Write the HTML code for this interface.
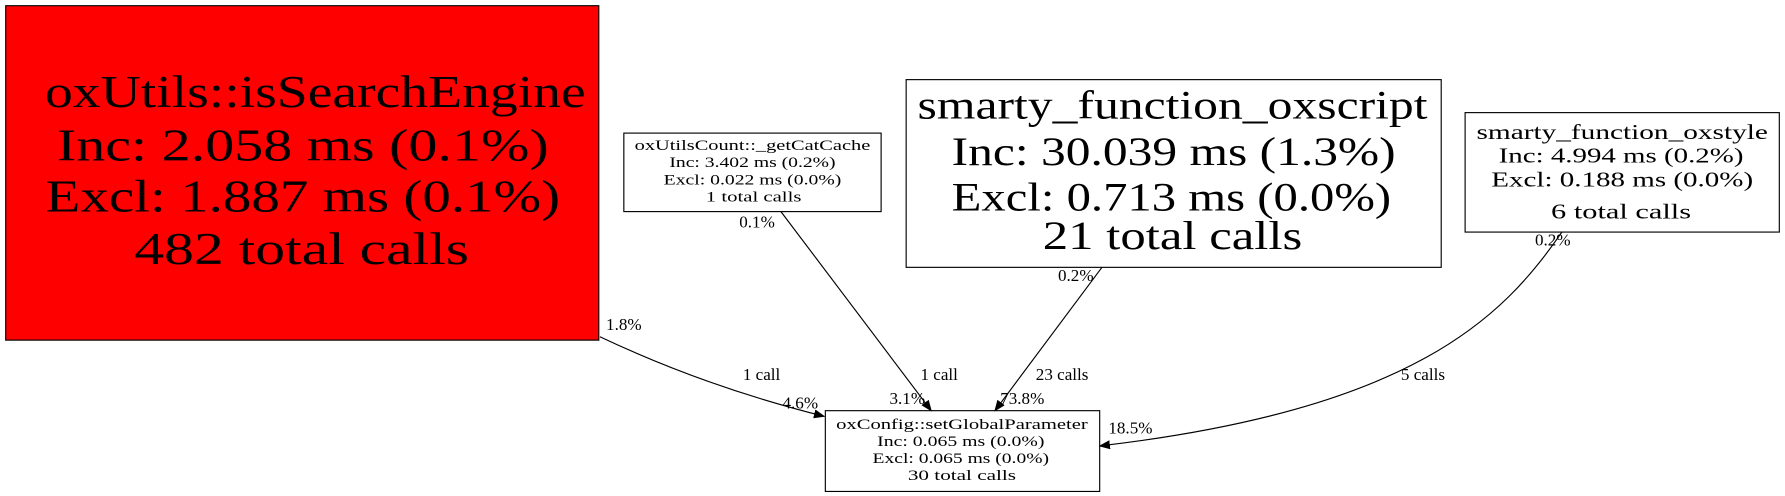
<!DOCTYPE html>
<html><head><meta charset="utf-8"><style>
html,body{margin:0;padding:0;background:#fff;width:1785px;height:496px;overflow:hidden}
svg{display:block}
text{font-family:"Liberation Serif",serif;fill:#000;text-anchor:middle}
</style></head><body>
<svg width="1785" height="496" viewBox="0 0 1568 436" preserveAspectRatio="none" xmlns="http://www.w3.org/2000/svg">
<defs><marker id="a" markerWidth="10" markerHeight="8" refX="9" refY="4" orient="auto" markerUnits="userSpaceOnUse"><path d="M0,0 L10,4 L0,8z" fill="#000"/></marker></defs>
<rect x="5" y="5" width="521" height="294" fill="#ff0000" stroke="#000"/>
<g font-size="40"><text x="277" y="94" textLength="475" lengthAdjust="spacingAndGlyphs">oxUtils::isSearchEngine</text><text x="266" y="141" textLength="432" lengthAdjust="spacingAndGlyphs">Inc: 2.058 ms (0.1%)</text><text x="266" y="186" textLength="452" lengthAdjust="spacingAndGlyphs">Excl: 1.887 ms (0.1%)</text><text x="265" y="232" textLength="294" lengthAdjust="spacingAndGlyphs">482 total calls</text></g>
<rect x="548" y="117" width="226" height="69" fill="#fff" stroke="#000"/>
<g font-size="13"><text x="661" y="132" textLength="207" lengthAdjust="spacingAndGlyphs">oxUtilsCount::_getCatCache</text><text x="661" y="147" textLength="146" lengthAdjust="spacingAndGlyphs">Inc: 3.402 ms (0.2%)</text><text x="661" y="162" textLength="156" lengthAdjust="spacingAndGlyphs">Excl: 0.022 ms (0.0%)</text><text x="662" y="177" textLength="84" lengthAdjust="spacingAndGlyphs">1 total calls</text></g>
<rect x="796" y="70" width="470" height="165" fill="#fff" stroke="#000"/>
<g font-size="35"><text x="1030" y="104" textLength="448" lengthAdjust="spacingAndGlyphs">smarty_function_oxscript</text><text x="1031" y="145" textLength="390" lengthAdjust="spacingAndGlyphs">Inc: 30.039 ms (1.3%)</text><text x="1029" y="185" textLength="386" lengthAdjust="spacingAndGlyphs">Excl: 0.713 ms (0.0%)</text><text x="1030" y="219" textLength="228" lengthAdjust="spacingAndGlyphs">21 total calls</text></g>
<rect x="1287" y="99" width="276" height="105" fill="#fff" stroke="#000"/>
<g font-size="19"><text x="1425" y="122" textLength="256" lengthAdjust="spacingAndGlyphs">smarty_function_oxstyle</text><text x="1424" y="143" textLength="215" lengthAdjust="spacingAndGlyphs">Inc: 4.994 ms (0.2%)</text><text x="1425" y="164" textLength="230" lengthAdjust="spacingAndGlyphs">Excl: 0.188 ms (0.0%)</text><text x="1424" y="192" textLength="123" lengthAdjust="spacingAndGlyphs">6 total calls</text></g>
<rect x="725" y="361" width="241" height="71" fill="#fff" stroke="#000"/>
<g font-size="13"><text x="845" y="377" textLength="221" lengthAdjust="spacingAndGlyphs">oxConfig::setGlobalParameter</text><text x="844" y="392" textLength="147" lengthAdjust="spacingAndGlyphs">Inc: 0.065 ms (0.0%)</text><text x="844" y="407" textLength="155" lengthAdjust="spacingAndGlyphs">Excl: 0.065 ms (0.0%)</text><text x="845" y="422" textLength="95" lengthAdjust="spacingAndGlyphs">30 total calls</text></g>
<g fill="none" stroke="#000" stroke-width="1">
<path d="M527,296 Q620,340 724,366" marker-end="url(#a)"/>
<path d="M686,186 L818,361" marker-end="url(#a)"/>
<path d="M968,235 L874,361" marker-end="url(#a)"/>
<path d="M1372,204 C1320,280 1240,360 966,392" marker-end="url(#a)"/>
</g>
<g font-size="15">
<text x="548" y="290">1.8%</text><text x="669" y="334">1 call</text><text x="703" y="359">4.6%</text>
<text x="665" y="200">0.1%</text><text x="825" y="334">1 call</text><text x="797" y="355">3.1%</text>
<text x="945" y="247">0.2%</text><text x="933" y="334">23 calls</text><text x="898" y="355">73.8%</text>
<text x="1364" y="216">0.2%</text><text x="1250" y="334">5 calls</text><text x="993" y="381">18.5%</text>
</g>
</svg>
</body></html>
